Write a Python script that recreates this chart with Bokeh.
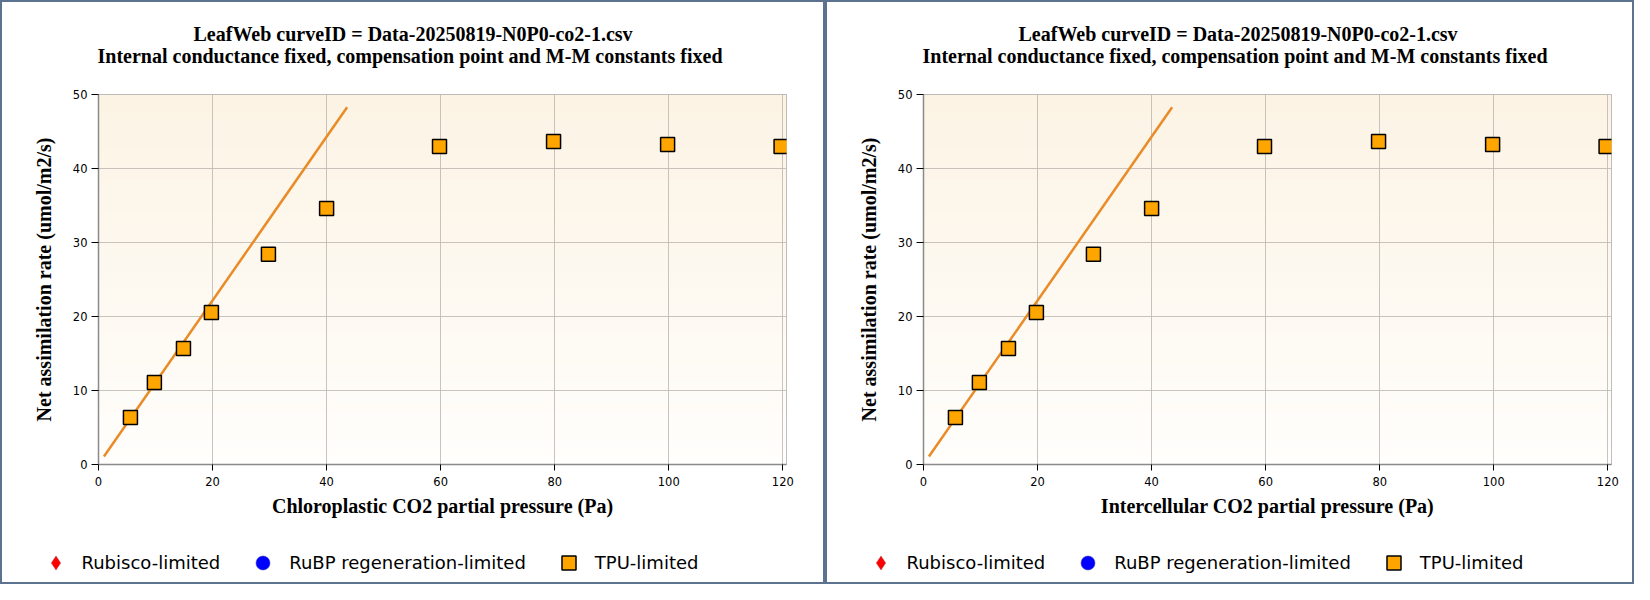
import numpy as np
from bokeh.plotting import figure
from bokeh.models import Range1d, Title, Legend, LegendItem, FixedTicker
from bokeh.layouts import row, column
from bokeh.embed import file_html
from bokeh.resources import INLINE

# ---------------- data ----------------
title_lines = ["LeafWeb curveID = Data-20250819-N0P0-co2-1.csv",
               "Internal conductance fixed, compensation point and M-M constants fixed"]
x_axis_labels = ["Chloroplastic CO2 partial pressure (Pa)",
                 "Intercellular CO2 partial pressure (Pa)"]
y_axis_label = "Net assimilation rate (umol/m2/s)"
legend_labels = ["Rubisco-limited", "RuBP regeneration-limited", "TPU-limited"]

tpu_x = [5.6, 9.8, 14.9, 19.8, 29.8, 40.0, 59.8, 79.8, 99.8, 119.7]
tpu_y = [6.35, 11.08, 15.68, 20.54, 28.42, 34.6, 42.97, 43.65, 43.24, 42.97]
rubisco_x, rubisco_y = [], []
rubp_x, rubp_y = [], []
fit_x = [0.95, 43.6]
fit_y = [1.08, 48.28]

x_ticks = [0, 20, 40, 60, 80, 100, 120]
y_ticks = [0, 10, 20, 30, 40, 50]
x_max = 120.65
y_max = 50

# ---------------- style ----------------
SERIF = "Liberation Serif"
SANS = "DejaVu Sans"
BORDER = "#5b7391"
MARKERS = [dict(marker="diamond", size=14, fill_color="red", line_color="#b04040", line_width=0.5),
           dict(marker="circle", size=14, fill_color="blue", line_color="#3030c0", line_width=0.5),
           dict(marker="square", size=14, fill_color="orange", line_color="black", line_width=1.5)]


def gradient_image(top=(252, 243, 228), bottom=(255, 254, 252), n=370):
    img = np.empty((n, 1), dtype=np.uint32)
    view = img.view(dtype=np.uint8).reshape((n, 1, 4))
    t = np.linspace(0, 1, n)  # row 0 is bottom
    for c in range(3):
        view[:, 0, c] = np.round(bottom[c] + (top[c] - bottom[c]) * t).astype(np.uint8)
    view[:, 0, 3] = 255
    return img


def title(text, offset, standoff, size="20px"):
    return Title(text=text, align="left", offset=offset,
                 text_font=SERIF, text_font_size=size, text_font_style="bold",
                 text_color="black", standoff=standoff)


def make_panel(xlabel, W, H=528, LH=52, left_b=96, top_b=92, frame_w=688, frame_h=370):
    p = figure(width=W, height=H, output_backend="svg", toolbar_location=None,
               title=None,
               x_range=Range1d(0, x_max), y_range=Range1d(0, y_max),
               min_border_left=left_b, min_border_right=W - left_b - frame_w,
               min_border_top=top_b, min_border_bottom=H - top_b - frame_h,
               background_fill_color="white", border_fill_color="white")
    p.frame_align = False

    # background gradient of the plotting area
    p.image_rgba(image=[gradient_image()], x=0, y=0, dw=x_max, dh=y_max, level="image")

    # title: spacer, then the two lines
    p.add_layout(title(" ", 0, 4), "above")
    p.add_layout(title(title_lines[1], -1, 0), "above")
    p.add_layout(title(title_lines[0], 95, -4), "above")

    # axes
    for ax in (p.xaxis[0], p.yaxis[0]):
        ax.axis_line_color = "#8a8a8a"
        ax.axis_line_width = 1.5
        ax.major_tick_line_color = "black"
        ax.major_tick_in = 0
        ax.minor_tick_line_color = None
        ax.major_label_text_font = SANS
        ax.major_label_text_font_size = "11.5px"
        ax.major_label_text_color = "black"
        ax.axis_label_text_font = SERIF
        ax.axis_label_text_font_size = "20px"
        ax.axis_label_text_font_style = "bold"
        ax.axis_label_text_color = "black"
    p.xaxis.ticker = FixedTicker(ticks=x_ticks)
    p.yaxis.ticker = FixedTicker(ticks=y_ticks)
    p.xaxis.axis_label = xlabel
    p.yaxis.axis_label = y_axis_label
    p.xaxis.major_tick_out = 6
    p.yaxis.major_tick_out = 7
    p.xaxis.major_label_standoff = 6
    p.yaxis.major_label_standoff = 4
    p.xaxis.axis_label_standoff = 6
    p.yaxis.axis_label_standoff = 15

    p.grid.grid_line_color = "#bdbab4"
    p.grid.grid_line_alpha = 0.85
    p.grid.grid_line_width = 1
    p.outline_line_color = "#aaaaaa"
    p.outline_line_width = 1

    # fitted line
    p.line(fit_x, fit_y, line_color="#e98b27", line_width=2.5)

    # points
    p.scatter(rubisco_x, rubisco_y, **MARKERS[0])
    p.scatter(rubp_x, rubp_y, **MARKERS[1])
    p.scatter(tpu_x, tpu_y, **MARKERS[2])

    # legend strip below the chart (key glyphs only, no data)
    lg = figure(width=W, height=LH, output_backend="svg", toolbar_location=None,
                title=None, x_axis_type=None, y_axis_type=None,
                x_range=Range1d(0, 1), y_range=Range1d(0, 1),
                min_border=0, outline_line_color=None,
                background_fill_color="white", border_fill_color="white")
    lg.frame_align = False
    lg.grid.visible = False
    rs = [lg.scatter([np.nan], [np.nan], **m) for m in MARKERS]
    legend = Legend(items=[LegendItem(label=lab, renderers=[r]) for lab, r in zip(legend_labels, rs)],
                    orientation="horizontal", location=(35.5, 2.5),
                    glyph_width=35, glyph_height=35, label_standoff=9, spacing=25,
                    padding=0, margin=0, border_line_alpha=0, background_fill_alpha=0,
                    label_text_font=SANS, label_text_font_size="18px",
                    label_text_color="black")
    lg.add_layout(legend, "center")
    return column(p, lg, spacing=0, margin=(2, 2, 2, 2),
                  styles={"background-color": "white"})


c1 = make_panel(x_axis_labels[0], 821)
c2 = make_panel(x_axis_labels[1], 805)
layout = row(c1, c2, spacing=0, styles={"background-color": BORDER})

open("out.html", "w").write(file_html(layout, INLINE))
